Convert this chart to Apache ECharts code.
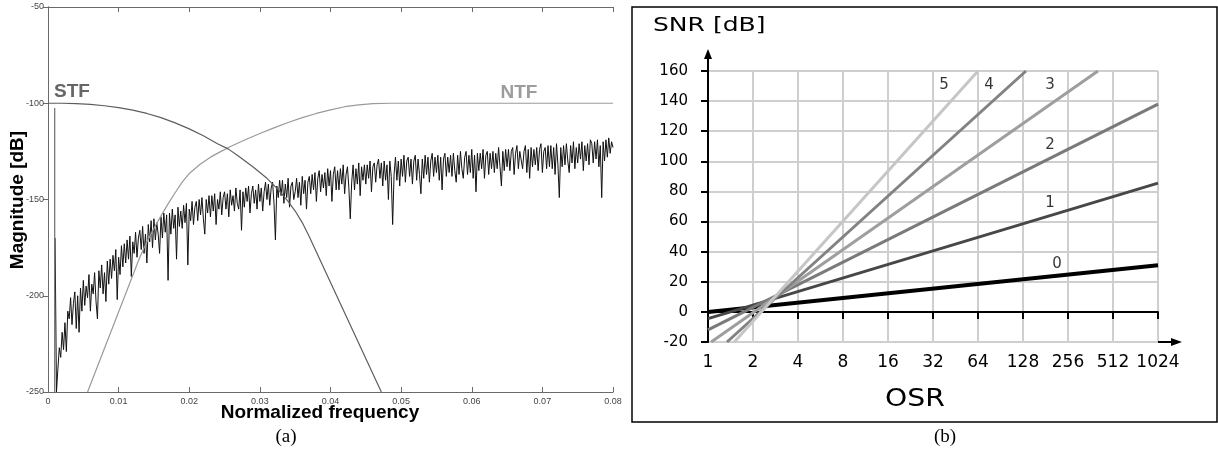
<!DOCTYPE html>
<html><head><meta charset="utf-8">
<script src="https://cdn.jsdelivr.net/npm/echarts@6/dist/echarts.min.js"></script>
<style>html,body{margin:0;padding:0;background:#fff}#c{width:1218px;height:452px}</style>
</head><body><div id="c"></div>
<script>
// ---------- panel (a) data ----------
const stfCurve = [[0,-100],[0.002,-100],[0.004,-100.2],[0.006,-100.6],[0.008,-101.3],[0.010,-102.3],[0.012,-103.6],[0.014,-105.3],[0.016,-107.5],[0.018,-110.2],[0.020,-113.3],[0.022,-116.9],[0.024,-121],[0.0255,-123.7],[0.027,-127.5],[0.029,-133],[0.031,-139],[0.0325,-144.5],[0.034,-151],[0.035,-156],[0.036,-162],[0.037,-169.3],[0.0472,-250]];
const ntfCurve = [[0.0056,-250],[0.0130,-180],[0.0140,-172],[0.0150,-165],[0.0160,-158.5],[0.0170,-152.3],[0.0180,-146.5],[0.0190,-141],[0.0200,-136.5],[0.0215,-131.8],[0.0230,-128],[0.0245,-125],[0.0260,-122.2],[0.0280,-118.8],[0.0300,-115.7],[0.0320,-112.8],[0.0340,-110],[0.0360,-107.5],[0.0380,-105.3],[0.0400,-103.4],[0.0420,-101.8],[0.0440,-100.8],[0.0460,-100.2],[0.0484,-100],[0.0800,-100]];
const signalTone = [[0.00095,-102.5],[0.00095,-250]];
const noiseStart = 0.0010;
const noiseStep = 0.0002;
const noiseDb = [
-170,-250,-238,-227,-232,-219,-228,-214,-229,-208,
-212,-201,-215,-204,-198,-217,-200,-219,-196,-208,
-192,-205,-195,-201,-189,-208,-194,-199,-188,-203,
-212,-187,-196,-184,-199,-188,-203,-182,-194,-181,
-191,-179,-187,-176,-202,-180,-189,-174,-185,-173,
-183,-171,-181,-169,-190,-172,-178,-167,-180,-170,
-166,-176,-164,-178,-168,-183,-163,-172,-161,-175,
-160,-171,-162,-168,-178,-159,-170,-157,-167,-158,
-192,-157,-168,-155,-165,-158,-181,-154,-164,-156,
-165,-153,-162,-152,-184,-155,-161,-151,-163,-154,
-151,-161,-150,-158,-149,-160,-168,-150,-157,-148,
-159,-148,-156,-147,-163,-150,-155,-146,-158,-149,
-146,-155,-147,-159,-145,-153,-148,-156,-144,-152,
-155,-145,-166,-146,-154,-144,-151,-143,-157,-147,
-143,-152,-145,-155,-142,-151,-144,-156,-146,-141,
-150,-142,-153,-144,-141,-152,-171,-143,-149,-140,
-148,-140,-152,-142,-149,-139,-154,-143,-141,-150,
-146,-139,-149,-141,-153,-138,-147,-140,-155,-141,
-138,-147,-137,-145,-136,-151,-139,-135,-146,-137,
-144,-136,-148,-134,-143,-135,-151,-137,-133,-145,
-135,-145,-134,-142,-132,-147,-137,-133,-144,-160,
-141,-132,-145,-134,-142,-131,-148,-133,-140,-132,
-142,-132,-139,-130,-146,-133,-131,-141,-132,-129,
-139,-131,-143,-130,-140,-132,-150,-130,-138,-163,
-137,-128,-140,-130,-143,-129,-138,-127,-141,-130,
-128,-138,-129,-142,-130,-127,-140,-129,-137,-147,
-129,-139,-127,-137,-128,-141,-130,-126,-138,-128,
-136,-127,-140,-128,-145,-129,-126,-138,-128,-136,
-127,-138,-126,-135,-141,-127,-137,-125,-134,-139,
-128,-125,-137,-127,-136,-124,-139,-127,-146,-126,
-135,-126,-134,-124,-139,-127,-125,-137,-126,-134,
-125,-136,-126,-134,-123,-133,-143,-125,-135,-124,
-133,-124,-135,-125,-123,-137,-126,-122,-134,-125,
-124,-134,-125,-122,-136,-124,-139,-123,-133,-124,
-132,-123,-135,-124,-121,-136,-125,-123,-134,-122,
-133,-122,-134,-123,-137,-121,-132,-149,-123,-133,
-122,-132,-121,-130,-136,-122,-131,-120,-134,-123,
-131,-121,-129,-120,-135,-122,-130,-121,-132,-119,
-121,-131,-120,-129,-119,-133,-122,-149,-120,-130,
-119,-128,-118,-126,-120,-123
];

// ---------- panel (b) data ----------
const osrTicks = [1,2,4,8,16,32,64,128,256,512,1024];
const orderNames = ['0','1','2','3','4','5'];
const snrOrder0 = [[1,0],[1024,31]];
const snrOrder1 = [[1,-4.5],[1024,85.5]];
const snrOrder2 = [[1,-12],[1024,138]];
const snrOrder3 = [[1.05,-20],[406,160]];
const snrOrder4 = [[1.34,-20],[134,160]];
const snrOrder5 = [[1.5,-20],[64,160]];

// ---------- build ----------
const noiseData = noiseDb.map((v,i)=>[+(noiseStart+i*noiseStep).toFixed(5), v]);
const snrLines = [snrOrder0,snrOrder1,snrOrder2,snrOrder3,snrOrder4,snrOrder5];
const orderColors = ['#000000','#474747','#7a7a7a','#9e9e9e','#828282','#c6c6c6'];
const orderWidths = [4,3,3,3,3,3];
// label anchors (layout) for the order numbers, in axis units
const orderLabelAt = [[216,31.8],[194,72.3],[194,110.8],[194,150.7],[75.8,150.7],[37.9,150.7]];

const sansA = 'Liberation Sans, Arial, sans-serif';
const sansB = 'DejaVu Sans, Verdana, sans-serif';

const aAxisLine = {lineStyle:{color:'#6a6a6a',width:1}};
const option = {
  animation:false,
  backgroundColor:'#fff',
  grid:[
    {left:48, top:7, width:565, height:385},
    {left:708, top:71, width:450, height:271}
  ],
  xAxis:[
    {gridIndex:0, type:'value', min:0, max:0.08, interval:0.01, position:'bottom',
     axisLine:aAxisLine, axisTick:{inside:true,length:5,lineStyle:{color:'#6a6a6a'}},
     axisLabel:{fontFamily:sansA,fontSize:9,color:'#444',margin:5}, splitLine:{show:false}},
    {gridIndex:0, type:'value', min:0, max:0.08, interval:0.01, position:'top',
     axisLine:aAxisLine, axisTick:{inside:true,length:5,lineStyle:{color:'#6a6a6a'}},
     axisLabel:{show:false}, splitLine:{show:false}},
    {gridIndex:1, type:'log', logBase:2, min:1, max:1023.999, splitNumber:10,
     axisLine:{lineStyle:{color:'#000',width:2}},
     axisTick:{length:7,lineStyle:{color:'#000',width:2}},
     axisLabel:{fontFamily:sansB,fontSize:17,color:'#000',margin:12,formatter:v=>String(Math.round(v))},
     splitLine:{show:true,lineStyle:{color:'#cfcfcf',width:2}}}
  ],
  yAxis:[
    {gridIndex:0, type:'value', min:-250, max:-50, interval:50, position:'left',
     axisLine:{show:true,lineStyle:{color:'#6a6a6a',width:1}}, axisTick:{show:true,inside:false,length:3,lineStyle:{color:'#6a6a6a'}},
     axisLabel:{fontFamily:sansA,fontSize:9,color:'#444',margin:4}, splitLine:{show:false}},
    {gridIndex:0, type:'value', min:-250, max:-50, interval:50, position:'right',
     axisLine:{show:true,lineStyle:{color:'#6a6a6a',width:1}}, axisTick:{show:true,inside:true,length:5,lineStyle:{color:'#6a6a6a'}},
     axisLabel:{show:false}, splitLine:{show:false}},
    {gridIndex:1, type:'value', min:-20, max:160, interval:20,
     axisLine:{show:true,lineStyle:{color:'#000',width:2}},
     axisTick:{show:true,length:7,lineStyle:{color:'#000',width:2}},
     axisLabel:{fontFamily:sansB,fontSize:15,color:'#000',margin:20},
     splitLine:{show:true,lineStyle:{color:'#cfcfcf',width:2}}}
  ],
  series:[
    {type:'line', xAxisIndex:0, yAxisIndex:0, data:noiseData, symbol:'none', lineStyle:{color:'#111',width:1}, z:3},
    {type:'line', xAxisIndex:0, yAxisIndex:0, data:ntfCurve, symbol:'none', lineStyle:{color:'#9a9a9a',width:1.2}, z:4},
    {type:'line', xAxisIndex:0, yAxisIndex:0, data:stfCurve, symbol:'none', lineStyle:{color:'#5e5e5e',width:1.2}, z:4},
    {type:'line', xAxisIndex:0, yAxisIndex:0, data:signalTone, symbol:'none', lineStyle:{color:'#6e6e6e',width:1.2}, z:4}
  ].concat(snrLines.map((d,i)=>({
    type:'line', xAxisIndex:2, yAxisIndex:2, data:d, symbol:'none',
    lineStyle:{color:orderColors[i],width:orderWidths[i]}, z:3+i
  }))).concat([{
    type:'scatter', xAxisIndex:2, yAxisIndex:2, symbolSize:0, silent:true,
    data:orderLabelAt.map((p,i)=>({value:p, name:orderNames[i]})),
    label:{show:true, position:'inside', formatter:p=>p.name, fontFamily:sansB, fontSize:15, color:'#000'}, z:10
  }])
};

const chart = echarts.init(document.getElementById('c'), null, {renderer:'canvas'});
chart.setOption(option);

const pTop = chart.convertToPixel({gridIndex:1}, [1,160]);
const pEnd = chart.convertToPixel({gridIndex:1}, [1023.999,-20]);

const graphics = [
  {type:'rect', shape:{x:632, y:7, width:585, height:415}, style:{fill:'none', stroke:'#000', lineWidth:1.5}, silent:true},
  {type:'line', shape:{x1:pTop[0], y1:pTop[1], x2:pTop[0], y2:pTop[1]-14}, style:{stroke:'#000', lineWidth:2}},
  {type:'polygon', shape:{points:[[pTop[0],pTop[1]-22],[pTop[0]-4,pTop[1]-12],[pTop[0]+4,pTop[1]-12]]}, style:{fill:'#000'}},
  {type:'line', shape:{x1:pEnd[0], y1:pEnd[1], x2:pEnd[0]+15, y2:pEnd[1]}, style:{stroke:'#000', lineWidth:2}},
  {type:'polygon', shape:{points:[[pEnd[0]+24,pEnd[1]],[pEnd[0]+13,pEnd[1]-4],[pEnd[0]+13,pEnd[1]+4]]}, style:{fill:'#000'}},
  {type:'text', x:653, y:26, scaleX:1.25, style:{text:'SNR [dB]', fontFamily:sansB, fontSize:20, fill:'#000', align:'left', verticalAlign:'middle'}},
  {type:'text', x:885, y:399, scaleX:1.13, style:{text:'OSR', fontFamily:sansB, fontSize:25, fill:'#000', align:'left', verticalAlign:'middle'}},
  {type:'text', x:18, y:200, rotation:Math.PI/2, style:{text:'Magnitude [dB]', fontFamily:sansA, fontWeight:'bold', fontSize:19, fill:'#000', align:'center', verticalAlign:'middle'}},
  {type:'text', x:320, y:413, style:{text:'Normalized frequency', fontFamily:sansA, fontWeight:'bold', fontSize:19, fill:'#000', align:'center', verticalAlign:'middle'}},
  {type:'text', x:72, y:92, style:{text:'STF', fontFamily:sansA, fontWeight:'bold', fontSize:19, fill:'#666', align:'center', verticalAlign:'middle'}},
  {type:'text', x:519, y:93, style:{text:'NTF', fontFamily:sansA, fontWeight:'bold', fontSize:19, fill:'#9c9c9c', align:'center', verticalAlign:'middle'}},
  {type:'text', x:286, y:437, style:{text:'(a)', fontFamily:'Liberation Serif, Times New Roman, serif', fontSize:19, fill:'#000', align:'center', verticalAlign:'middle'}},
  {type:'text', x:945, y:437, style:{text:'(b)', fontFamily:'Liberation Serif, Times New Roman, serif', fontSize:19, fill:'#000', align:'center', verticalAlign:'middle'}}
];
chart.setOption({graphic:graphics});
</script>
</body></html>
